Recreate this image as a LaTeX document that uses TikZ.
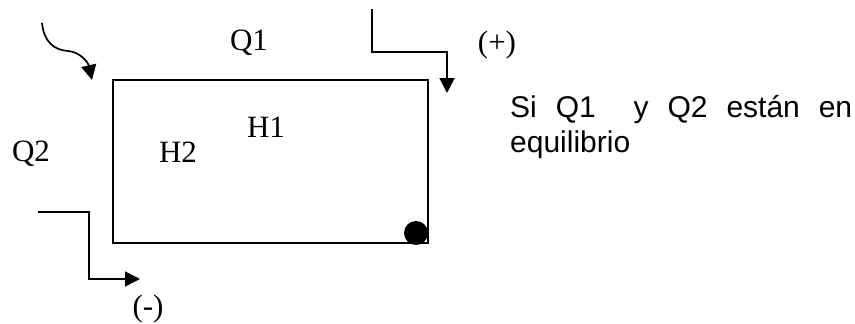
\documentclass[tikz,border=0pt]{standalone}
\usepackage{fontspec}
\setmainfont{Liberation Serif}
\setsansfont{Liberation Sans}
\usetikzlibrary{arrows.meta}
\begin{document}
\begin{tikzpicture}[x=1pt,y=-1pt,
  ln/.style={line width=1.7pt},
  arr/.style={ln,-{Triangle[width=15pt,length=15pt]}},
  serif/.style={font=\fontsize{31}{36}\selectfont,inner sep=0pt},
  sans/.style={font=\sffamily\fontsize{30}{35}\selectfont,inner sep=0pt,anchor=base west}]
\useasboundingbox (0,0) rectangle (855,324);
% box
\node[ln,draw,minimum width=315pt,minimum height=163pt,inner sep=0pt] (box) at (270.5,161.5) {};
\fill (416,233) circle (12pt);
% top-right arrow
\coordinate (a1) at (372,9);
\coordinate (a2) at (372,52);
\coordinate (a3) at (447,52);
\coordinate (a4) at (447,93);
\draw[arr] (a1) -- (a2) -- (a3) -- (a4);
% bottom-left arrow
\coordinate (b1) at (38,212);
\coordinate (b2) at (89,212);
\coordinate (b3) at (89,279);
\coordinate (b4) at (140,279);
\draw[arr] (b1) -- (b2) -- (b3) -- (b4);
% curly arrow
\coordinate (c1) at (42,23);
\coordinate (c2) at (68,51);
\coordinate (c3) at (92,80);
\draw[arr] (c1) .. controls (44,42) and (54,50) .. (c2) .. controls (80,52) and (88,62) .. (c3);
% labels
\node[serif,anchor=base] (q1) at (249,50) {Q1};
\node[serif,anchor=base] (q2) at (31,161) {Q2};
\node[serif,anchor=base] (h2) at (178,162) {H2};
\node[serif,anchor=base] (h1) at (266,137) {H1};
\node[serif,anchor=base] (plus) at (497,52) {(+)};
\node[serif,anchor=base] (minus) at (148,316) {(-)};
\node[sans] (t1) at (510,117) {\makebox[342pt][s]{Si Q1\ \ y Q2 están en}};
\node[sans] (t2) at (510,152) {equilibrio};
\end{tikzpicture}
\end{document}
